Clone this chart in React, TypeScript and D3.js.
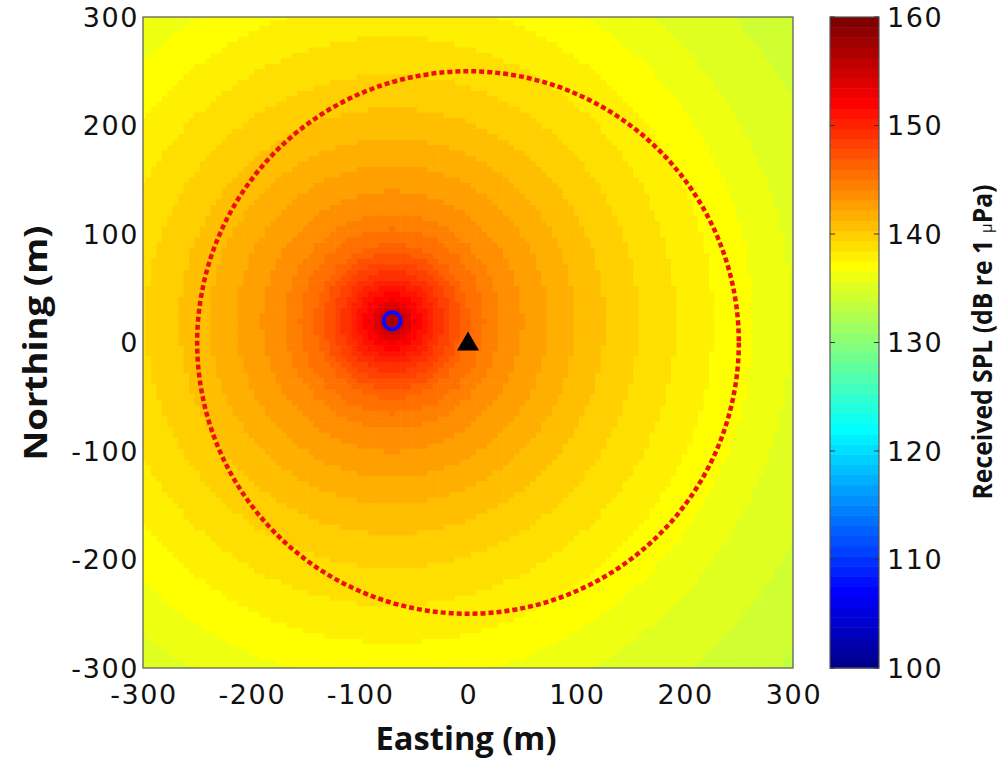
import React from 'react';
import * as d3 from 'd3';

// ---- data ----
const xTicks = [-300, -200, -100, 0, 100, 200, 300];
const yTicks = [-300, -200, -100, 0, 100, 200, 300];
const cbTicks = [100, 110, 120, 130, 140, 150, 160];
const sourcePos = [-70, 20]; // blue circle (source location)
const receiverPos = [0, 0]; // black triangle
const zoneRadius = 250; // dashed red circle radius (m)
const profileRange = [0, 10, 20, 30, 45, 70, 100, 130, 180, 230, 300, 370, 450, 520];
const profileSPL = [157.5, 155, 152.5, 151, 149, 146, 144, 142.7, 140.8, 139.3, 137.4, 135.6, 134.2, 133.1];
const gridStep = 5;
const extent = [-300, 300];
const cbDomain = [100, 160];

function jet64(v: number): string {
  const t = (v - cbDomain[0]) / (cbDomain[1] - cbDomain[0]);
  let k = Math.floor(t * 64) + 1;
  k = Math.max(1, Math.min(64, k));
  const f = k / 64;
  const c = (a: number) => Math.max(0, Math.min(1, a));
  const r = c(1.5 - Math.abs(4 * f - 3));
  const g = c(1.5 - Math.abs(4 * f - 2));
  const b = c(1.5 - Math.abs(4 * f - 1));
  return d3.rgb(r * 255, g * 255, b * 255).formatHex();
}

export default function App() {
  const W = 1005, H = 762;
  const x = d3.scaleLinear().domain(extent).range([143, 793]);
  const y = d3.scaleLinear().domain(extent).range([668, 17]);
  const cbY = d3.scaleLinear().domain(cbDomain).range([668, 17]);
  const cbX0 = 830, cbX1 = 879;
  const spl = d3.scaleLinear().domain(profileRange).range(profileSPL).clamp(true);

  const centers = d3.range(extent[0], extent[1] + gridStep / 2, gridStep);
  const cells: { e: number; n: number; c: string }[] = [];
  for (const e of centers) {
    for (const n of centers) {
      const d = Math.hypot(e - sourcePos[0], n - sourcePos[1]);
      cells.push({ e, n, c: jet64(spl(d)) });
    }
  }

  const cbLevels = d3.range(64).map((i) => cbDomain[0] + (i * (cbDomain[1] - cbDomain[0])) / 64);
  const lvlH = (cbDomain[1] - cbDomain[0]) / 64;

  const tickFont = { fontFamily: 'DejaVu Sans', fontSize: 27, fill: '#111', letterSpacing: 1.6 } as const;
  const labelFont = { fontFamily: 'Open Sans', fontWeight: 700, fill: '#111' } as const;

  const rx = x(zoneRadius) - x(0);
  const ry = y(0) - y(zoneRadius);
  const sx = x(sourcePos[0]), sy = y(sourcePos[1]);
  const tx = x(receiverPos[0]), ty = y(receiverPos[1]);

  return (
    <svg width={W} height={H} style={{ position: 'absolute', left: 0, top: 0, background: '#fff' }}>
      <defs>
        <clipPath id="plotClip">
          <rect x={x(extent[0])} y={y(extent[1])} width={x(extent[1]) - x(extent[0])} height={y(extent[0]) - y(extent[1])} />
        </clipPath>
      </defs>
      <g clipPath="url(#plotClip)">
        {cells.map((cell, i) => (
          <rect
            key={i}
            x={x(cell.e - gridStep / 2)}
            y={y(cell.n + gridStep / 2)}
            width={x(cell.e + gridStep / 2) - x(cell.e - gridStep / 2) + 0.6}
            height={y(cell.n - gridStep / 2) - y(cell.n + gridStep / 2) + 0.6}
            fill={cell.c}
          />
        ))}
        <ellipse cx={x(0)} cy={y(0)} rx={rx} ry={ry} fill="none" stroke="#ee1010" strokeWidth={4.5} strokeDasharray="5 3" />
        <circle cx={sx} cy={sy} r={8.5} fill="none" stroke="#0a0aff" strokeWidth={4} />
        <path d={`M${tx},${ty - 11}L${tx + 11},${ty + 8}L${tx - 11},${ty + 8}Z`} fill="#000" />
      </g>
      <rect x={x(extent[0])} y={y(extent[1])} width={x(extent[1]) - x(extent[0])} height={y(extent[0]) - y(extent[1])} fill="none" stroke="#555" strokeWidth={1.2} />

      {xTicks.map((t) => (
        <text key={'x' + t} x={x(t) + 1} y={704} textAnchor="middle" {...tickFont}>{t}</text>
      ))}
      {yTicks.map((t) => (
        <text key={'y' + t} x={139} y={y(t)} dy="0.36em" textAnchor="end" {...tickFont}>{t}</text>
      ))}

      <text x={466} y={750} textAnchor="middle" fontSize={32} textLength={181} lengthAdjust="spacingAndGlyphs" {...labelFont}>Easting (m)</text>
      <text transform={`translate(47,343) rotate(-90)`} textAnchor="middle" fontSize={32} textLength={235} lengthAdjust="spacingAndGlyphs" {...labelFont}>Northing (m)</text>

      {cbLevels.map((v, i) => (
        <rect key={'cb' + i} x={cbX0} y={cbY(v + lvlH)} width={cbX1 - cbX0} height={cbY(v) - cbY(v + lvlH) + 0.5} fill={jet64(v + lvlH / 2)} />
      ))}
      <rect x={cbX0} y={cbY(cbDomain[1])} width={cbX1 - cbX0} height={cbY(cbDomain[0]) - cbY(cbDomain[1])} fill="none" stroke="#555" strokeWidth={1.2} />
      {cbTicks.map((t) => (
        <g key={'cbt' + t}>
          <line x1={cbX0} x2={cbX0 + 5} y1={cbY(t)} y2={cbY(t)} stroke="#333" />
          <line x1={cbX1 - 5} x2={cbX1} y1={cbY(t)} y2={cbY(t)} stroke="#333" />
          <text x={887} y={cbY(t)} dy="0.36em" textAnchor="start" {...tickFont}>{t}</text>
        </g>
      ))}
      <text transform={`translate(992,342) rotate(-90)`} textAnchor="middle" fontSize={26} textLength={315} lengthAdjust="spacingAndGlyphs" {...labelFont}>
        Received SPL (dB re 1 <tspan fontSize={17} fontWeight={400}>μ</tspan>Pa)
      </text>
    </svg>
  );
}
